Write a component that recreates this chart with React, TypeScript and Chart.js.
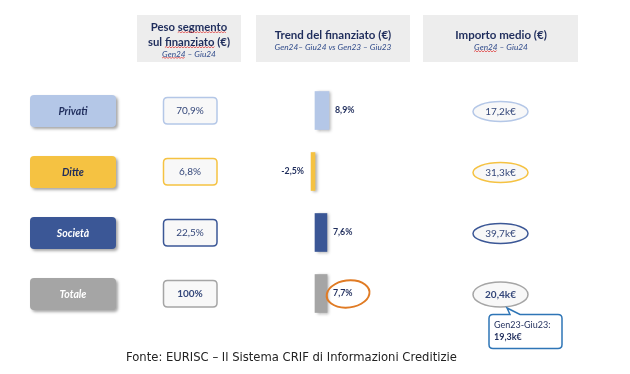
import React, { useEffect, useRef } from "react";
import { Chart, registerables } from "chart.js";

Chart.register(...registerables);

const categories = ["Privati", "Ditte", "Società", "Totale"];
const pesoSegmento = [70.9, 6.8, 22.5, 100];
const trendFinanziato = [8.9, -2.5, 7.6, 7.7];
const importoMedio = [17.2, 31.3, 39.7, 20.4];
const importoTotalePrecedente = 19.3;
const periodoPrecedente = "Gen23-Giu23:";
const segmentColors = ["#b4c7e7", "#f5c242", "#3b5796", "#a5a5a5"];
const labelTextColors = ["#1f2d5c", "#1f2d5c", "#ffffff", "#ffffff"];
const headerTitles = [["Peso segmento", "sul finanziato (€)"], ["Trend del finanziato (€)"], ["Importo medio (€)"]];
const headerSubtitles = ["Gen24 – Giu24", "Gen24– Giu24 vs Gen23 – Giu23", "Gen24 – Giu24"];
const footerText = "Fonte: EURISC – Il Sistema CRIF di Informazioni Creditizie";

const FONT = "Lato, 'Open Sans', sans-serif";
const NAVY = "#1f2d5c";

const fmt = (v: number) => v.toFixed(1).replace(".", ",");
const fmtPct = (v: number) => (v === 100 ? "100%" : fmt(v) + "%");

function roundRect(ctx: CanvasRenderingContext2D, x: number, y: number, w: number, h: number, r: number) {
  ctx.beginPath();
  ctx.moveTo(x + r, y);
  ctx.lineTo(x + w - r, y);
  ctx.quadraticCurveTo(x + w, y, x + w, y + r);
  ctx.lineTo(x + w, y + h - r);
  ctx.quadraticCurveTo(x + w, y + h, x + w - r, y + h);
  ctx.lineTo(x + r, y + h);
  ctx.quadraticCurveTo(x, y + h, x, y + h - r);
  ctx.lineTo(x, y + r);
  ctx.quadraticCurveTo(x, y, x + r, y);
  ctx.closePath();
}

function squiggle(ctx: CanvasRenderingContext2D, x1: number, x2: number, y: number) {
  ctx.save();
  ctx.strokeStyle = "#e03a3a";
  ctx.lineWidth = 0.8;
  ctx.beginPath();
  let up = true;
  ctx.moveTo(x1, y);
  for (let x = x1 + 1.5; x <= x2; x += 1.5) {
    ctx.lineTo(x, up ? y - 1 : y + 0.5);
    up = !up;
  }
  ctx.stroke();
  ctx.restore();
}

const decorPlugin = {
  id: "decor",
  beforeDraw(chart: any) {
    const ctx: CanvasRenderingContext2D = chart.ctx;
    const yScale = chart.scales.y;
    ctx.save();
    ctx.fillStyle = "#ffffff";
    ctx.fillRect(0, 0, chart.width, chart.height);

    // header boxes
    const boxes = [
      { x: 137, w: 104 },
      { x: 256, w: 154 },
      { x: 423, w: 155 },
    ];
    ctx.fillStyle = "#ededed";
    boxes.forEach((b) => ctx.fillRect(b.x, 15, b.w, 47));

    ctx.textBaseline = "middle";
    ctx.textAlign = "left";
    // box 1
    {
      const cx = 189;
      ctx.fillStyle = NAVY;
      ctx.font = `bold 11.3px ${FONT}`;
      const l1 = headerTitles[0][0];
      const w1 = ctx.measureText(l1).width;
      ctx.fillText(l1, cx - w1 / 2, 27);
      const segX = cx - w1 / 2 + ctx.measureText("Peso ").width;
      squiggle(ctx, segX, cx + w1 / 2, 32.5);
      const l2 = headerTitles[0][1];
      const w2 = ctx.measureText(l2).width;
      ctx.fillText(l2, cx - w2 / 2, 42);
      const fx = cx - w2 / 2 + ctx.measureText("sul ").width;
      squiggle(ctx, fx, fx + ctx.measureText("finanziato").width, 47.5);
      ctx.font = `italic 8.3px ${FONT}`;
      ctx.fillStyle = "#2f4a8a";
      const s = headerSubtitles[0];
      const ws = ctx.measureText(s).width;
      ctx.fillText(s, cx - ws / 2, 54);
      squiggle(ctx, cx - ws / 2, cx - ws / 2 + ctx.measureText("Gen24").width, 58);
    }
    // box 2
    {
      const cx = 333;
      ctx.fillStyle = NAVY;
      ctx.font = `bold 11.5px ${FONT}`;
      const l1 = headerTitles[1][0];
      ctx.fillText(l1, cx - ctx.measureText(l1).width / 2, 35);
      ctx.font = `italic 8.3px ${FONT}`;
      ctx.fillStyle = "#2f4a8a";
      const s = headerSubtitles[1];
      ctx.fillText(s, cx - ctx.measureText(s).width / 2, 47);
    }
    // box 3
    {
      const cx = 501;
      ctx.fillStyle = NAVY;
      ctx.font = `bold 11.5px ${FONT}`;
      const l1 = headerTitles[2][0];
      ctx.fillText(l1, cx - ctx.measureText(l1).width / 2, 35);
      ctx.font = `italic 8.3px ${FONT}`;
      ctx.fillStyle = "#2f4a8a";
      const s = headerSubtitles[2];
      const ws = ctx.measureText(s).width;
      ctx.fillText(s, cx - ws / 2, 47);
      squiggle(ctx, cx - ws / 2, cx - ws / 2 + ctx.measureText("Gen24").width, 51.5);
    }

    categories.forEach((cat, i) => {
      const yc = yScale.getPixelForValue(i);
      const col = segmentColors[i];
      // category button with shadow
      ctx.save();
      ctx.shadowColor = "rgba(0,0,0,0.35)";
      ctx.shadowOffsetX = 2;
      ctx.shadowOffsetY = 2;
      ctx.shadowBlur = 3;
      roundRect(ctx, 30, yc - 15.5, 86, 32, 4);
      ctx.fillStyle = col;
      ctx.fill();
      ctx.restore();
      ctx.fillStyle = labelTextColors[i];
      ctx.font = `bold italic 10.5px ${FONT}`;
      ctx.textAlign = "center";
      ctx.fillText(cat, 73, yc + 1);

      // percent box
      roundRect(ctx, 163.5, yc - 13, 53.5, 26.5, 4);
      ctx.fillStyle = "#f8f8f8";
      ctx.fill();
      ctx.strokeStyle = col;
      ctx.lineWidth = 1.5;
      ctx.stroke();
      ctx.fillStyle = "#34477a";
      ctx.font = `${i === 3 ? "bold " : ""}10px ${FONT}`;
      ctx.fillText(fmtPct(pesoSegmento[i]), 190, yc);

      // ellipse
      const ey = yc + 1;
      const ry = i === 3 ? 12.5 : 10;
      ctx.beginPath();
      ctx.ellipse(500.5, ey, 27.5, ry, 0, 0, Math.PI * 2);
      ctx.fillStyle = "#f8f8f8";
      ctx.fill();
      ctx.strokeStyle = col;
      ctx.lineWidth = 1.5;
      ctx.stroke();
      ctx.fillStyle = "#34477a";
      ctx.font = `${i === 3 ? "bold " : ""}10px ${FONT}`;
      ctx.fillText(fmt(importoMedio[i]) + "k€", 500.5, ey);

      if (i === 3) {
        // callout
        const top = ey + 20;
        ctx.beginPath();
        const x = 489, w = 73, h = 34, r = 4;
        ctx.moveTo(x + r, top);
        ctx.lineTo(510, top);
        ctx.lineTo(507, ey + 13.5);
        ctx.lineTo(520, top);
        ctx.lineTo(x + w - r, top);
        ctx.quadraticCurveTo(x + w, top, x + w, top + r);
        ctx.lineTo(x + w, top + h - r);
        ctx.quadraticCurveTo(x + w, top + h, x + w - r, top + h);
        ctx.lineTo(x + r, top + h);
        ctx.quadraticCurveTo(x, top + h, x, top + h - r);
        ctx.lineTo(x, top + r);
        ctx.quadraticCurveTo(x, top, x + r, top);
        ctx.closePath();
        ctx.fillStyle = "#ffffff";
        ctx.fill();
        ctx.strokeStyle = "#2e75b6";
        ctx.lineWidth = 1.5;
        ctx.stroke();
        ctx.textAlign = "left";
        ctx.fillStyle = NAVY;
        ctx.font = `9px ${FONT}`;
        ctx.fillText(periodoPrecedente, 494, top + 11);
        ctx.font = `bold 9px ${FONT}`;
        ctx.fillText(fmt(importoTotalePrecedente) + "k€", 494, top + 23);
      }
    });

    // footer
    ctx.textAlign = "left";
    ctx.fillStyle = "#222222";
    ctx.font = "11.6px 'DejaVu Sans', Verdana, sans-serif";
    ctx.fillText(footerText, 126, 358);
    ctx.restore();
  },
  beforeDatasetsDraw(chart: any) {
    const ctx: CanvasRenderingContext2D = chart.ctx;
    ctx.save();
    ctx.shadowColor = "rgba(0,0,0,0.3)";
    ctx.shadowOffsetX = 2;
    ctx.shadowOffsetY = 1;
    ctx.shadowBlur = 3;
  },
  afterDatasetsDraw(chart: any) {
    const ctx: CanvasRenderingContext2D = chart.ctx;
    ctx.restore();
    ctx.save();
    const meta = chart.getDatasetMeta(0);
    ctx.textBaseline = "middle";
    ctx.font = `bold 8.8px ${FONT}`;
    ctx.fillStyle = NAVY;
    meta.data.forEach((bar: any, i: number) => {
      const v = trendFinanziato[i];
      const txt = fmt(v) + "%";
      if (v >= 0) {
        ctx.textAlign = "left";
        ctx.fillText(txt, bar.x + 6, bar.y);
      } else {
        ctx.textAlign = "right";
        ctx.fillText(txt, bar.x - 7, bar.y);
      }
      if (i === 3) {
        ctx.beginPath();
        ctx.ellipse(bar.x + 21, bar.y + 0.5, 21.5, 13.5, -0.12, 0.2, Math.PI * 2 + 0.5);
        ctx.strokeStyle = "#e07b24";
        ctx.lineWidth = 2;
        ctx.stroke();
      }
    });
    ctx.restore();
  },
};

export default function App() {
  const ref = useRef<HTMLCanvasElement>(null);
  useEffect(() => {
    document.body.style.margin = "0";
    const canvas = ref.current!;
    const chart = new Chart(canvas, {
      type: "bar",
      data: {
        labels: categories,
        datasets: [
          {
            data: trendFinanziato,
            backgroundColor: segmentColors,
            borderWidth: 0,
            barThickness: 38,
          },
        ],
      },
      options: {
        indexAxis: "y",
        animation: false,
        responsive: false,
        maintainAspectRatio: false,
        devicePixelRatio: 1,
        layout: { padding: { left: 158, right: 158, top: 80, bottom: 50 } },
        scales: {
          x: { min: -100, max: 100, display: false, grid: { display: false } },
          y: { type: "category", display: false, grid: { display: false } },
        },
        plugins: {
          legend: { display: false },
          tooltip: { enabled: false },
        },
      },
      plugins: [decorPlugin],
    });
    return () => chart.destroy();
  }, []);
  return (
    <div style={{ width: 630, height: 374 }}>
      <canvas ref={ref} width={630} height={374} style={{ display: "block" }} />
    </div>
  );
}
